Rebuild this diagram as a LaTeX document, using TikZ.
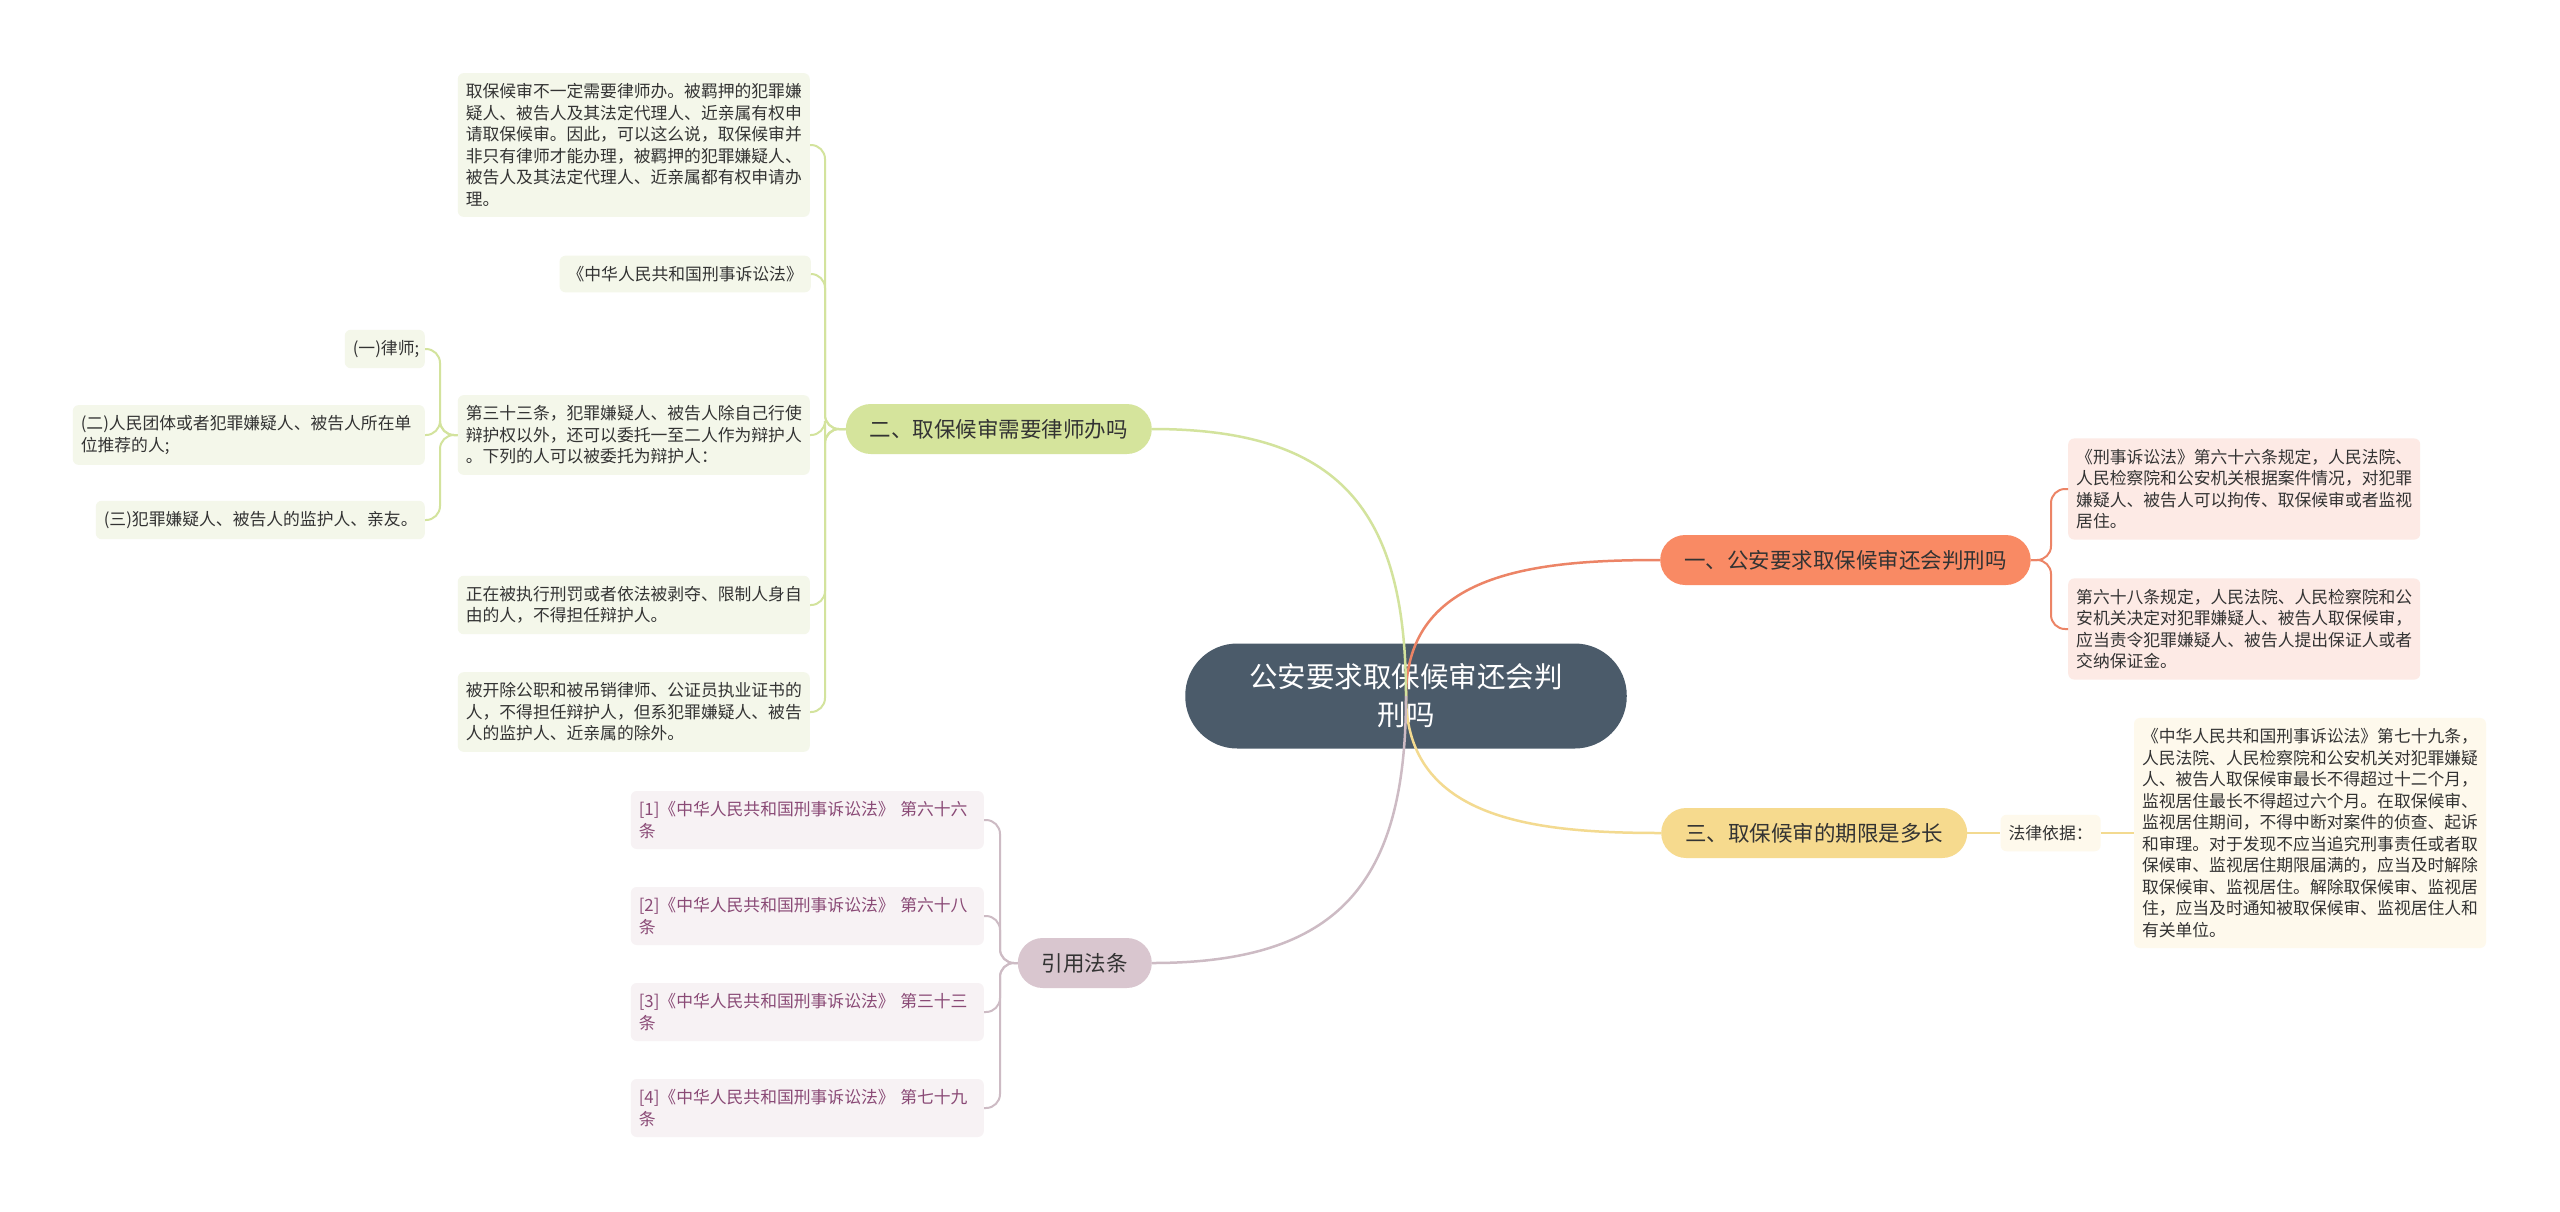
\documentclass[tikz,border=0pt]{standalone}
\usepackage{fontspec}
\setmainfont{Noto Sans CJK SC}
\usepackage{tikz}
\usetikzlibrary{positioning}
\usepackage{xcolor}
\definecolor{rootfill}{HTML}{4B5B6A}
\definecolor{orgfill}{HTML}{F98A64}
\definecolor{orgline}{HTML}{EC8466}
\definecolor{orgleaf}{HTML}{FDEAE5}
\definecolor{grnfill}{HTML}{D5E49C}
\definecolor{grnline}{HTML}{D3E39D}
\definecolor{grnleaf}{HTML}{F4F7EA}
\definecolor{ylwfill}{HTML}{F6DA8E}
\definecolor{ylwline}{HTML}{F3DA90}
\definecolor{ylwleaf}{HTML}{FEF9EC}
\definecolor{mvfill}{HTML}{D9C6CF}
\definecolor{mvline}{HTML}{CDBBC4}
\definecolor{mvleaf}{HTML}{F7F2F4}
\definecolor{mvtext}{HTML}{8A4A76}
\definecolor{leaftext}{HTML}{333333}
\tikzset{
  rootnode/.style={fill=rootfill,text=white,align=center,rounded corners=52pt,minimum height=105pt,inner xsep=64pt,font=\fontsize{28.5pt}{38pt}\selectfont},
  branch/.style={rounded corners=25pt,minimum height=50pt,inner xsep=24pt,text=leaftext,font=\fontsize{21.5pt}{26pt}\selectfont},
  leaf/.style={rounded corners=6pt,align=left,inner xsep=8pt,inner ysep=10.5pt,text=leaftext,font=\fontsize{16.8pt}{21.5pt}\selectfont},
  citeleaf/.style={leaf,fill=mvleaf,text=mvtext,text width=337pt},
  link/.style={line width=2.5pt},
  spine/.style={line width=2pt,rounded corners=14pt},
}

\begin{document}
\begin{tikzpicture}[x=1pt,y=-1pt]
\fill[white] (0,0) rectangle (2560,1211);
\useasboundingbox (0,0) rectangle (2560,1211);

% centre and branches
\node[rootnode] (root) at (1406,696) {公安要求取保候审还会判\\刑吗};
\node[branch,fill=orgfill,anchor=west] (b1) at (1660,560) {一、公安要求取保候审还会判刑吗};
\node[branch,fill=grnfill,anchor=east] (b2) at (1152,429) {二、取保候审需要律师办吗};
\node[branch,fill=ylwfill,anchor=west] (b3) at (1661,833) {三、取保候审的期限是多长};
\node[branch,fill=mvfill,anchor=east] (b4) at (1152,963) {引用法条};

% branch one
\node[leaf,fill=orgleaf,anchor=west] (o1) at (2068,489) {《刑事诉讼法》第六十六条规定，人民法院、\\人民检察院和公安机关根据案件情况，对犯罪\\嫌疑人、被告人可以拘传、取保候审或者监视\\居住。};
\node[leaf,fill=orgleaf,anchor=west] (o2) at (2068,629) {第六十八条规定，人民法院、人民检察院和公\\安机关决定对犯罪嫌疑人、被告人取保候审，\\应当责令犯罪嫌疑人、被告人提出保证人或者\\交纳保证金。};

% branch two
\node[leaf,fill=grnleaf,anchor=east] (g1) at (810,145) {取保候审不一定需要律师办。被羁押的犯罪嫌\\疑人、被告人及其法定代理人、近亲属有权申\\请取保候审。因此，可以这么说，取保候审并\\非只有律师才能办理，被羁押的犯罪嫌疑人、\\被告人及其法定代理人、近亲属都有权申请办\\理。};
\node[leaf,fill=grnleaf,anchor=east] (g2) at (811,274) {《中华人民共和国刑事诉讼法》};
\node[leaf,fill=grnleaf,anchor=east] (g3) at (810,435) {第三十三条，犯罪嫌疑人、被告人除自己行使\\辩护权以外，还可以委托一至二人作为辩护人\\。下列的人可以被委托为辩护人：};
\node[leaf,fill=grnleaf,anchor=east] (g4) at (810,605) {正在被执行刑罚或者依法被剥夺、限制人身自\\由的人，不得担任辩护人。};
\node[leaf,fill=grnleaf,anchor=east] (g5) at (810,712) {被开除公职和被吊销律师、公证员执业证书的\\人，不得担任辩护人，但系犯罪嫌疑人、被告\\人的监护人、近亲属的除外。};
\node[leaf,fill=grnleaf,anchor=east,text width=64pt] (s1) at (425,349) {(一)律师;};
\node[leaf,fill=grnleaf,anchor=east,text width=336pt] (s2) at (425,435) {(二)人民团体或者犯罪嫌疑人、被告人所在单\\位推荐的人;};
\node[leaf,fill=grnleaf,anchor=east,text width=313pt] (s3) at (425,520) {(三)犯罪嫌疑人、被告人的监护人、亲友。};

% branch three
\node[leaf,fill=ylwleaf,right=33pt of b3] (law) {法律依据：};
\node[leaf,fill=ylwleaf,right=33pt of law] (y1) {《中华人民共和国刑事诉讼法》第七十九条，\\人民法院、人民检察院和公安机关对犯罪嫌疑\\人、被告人取保候审最长不得超过十二个月，\\监视居住最长不得超过六个月。在取保候审、\\监视居住期间，不得中断对案件的侦查、起诉\\和审理。对于发现不应当追究刑事责任或者取\\保候审、监视居住期限届满的，应当及时解除\\取保候审、监视居住。解除取保候审、监视居\\住，应当及时通知被取保候审、监视居住人和\\有关单位。};

% citations
\node[citeleaf,anchor=east] (c1) at (984,820) {[1]《中华人民共和国刑事诉讼法》 第六十六\\条};
\node[citeleaf,anchor=east] (c2) at (984,916) {[2]《中华人民共和国刑事诉讼法》 第六十八\\条};
\node[citeleaf,anchor=east] (c3) at (984,1012) {[3]《中华人民共和国刑事诉讼法》 第三十三\\条};
\node[citeleaf,anchor=east] (c4) at (984,1108) {[4]《中华人民共和国刑事诉讼法》 第七十九\\条};

% spines
\coordinate (os) at (2051,560);
\coordinate (gs) at (825,429);
\coordinate (ss) at (440,435);
\coordinate (ms) at (1000,963);

\draw[link,orgline] (root.center) to[out=90,in=180,looseness=1.1] (b1.west);
\draw[link,grnline] (root.center) to[out=90,in=0,looseness=1.3] (b2.east);
\draw[link,ylwline] (root.center) to[out=-90,in=180,looseness=1.1] (b3.west);
\draw[link,mvline] (root.center) to[out=-90,in=0,looseness=1.3] (b4.east);

\foreach \n in {o1,o2} \draw[spine,orgline] (b1.east) -- (os) |- (\n.west);
\foreach \n in {g1,g2,g3,g4,g5} \draw[spine,grnline] (b2.west) -- (gs) |- (\n.east);
\foreach \n in {s1,s2,s3} \draw[spine,grnline] (g3.west) -- (ss) |- (\n.east);
\foreach \n in {c1,c2,c3,c4} \draw[spine,mvline] (b4.west) -- (ms) |- (\n.east);
\draw[link,ylwline] (b3.east) -- (law.west);
\draw[link,ylwline] (law.east) -- (y1.west);

\end{tikzpicture}
\end{document}
